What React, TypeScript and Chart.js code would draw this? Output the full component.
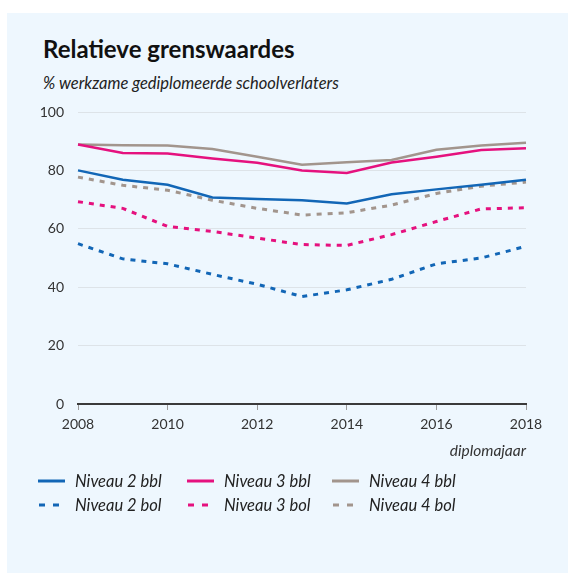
import React, { useEffect, useRef } from "react";
import { Chart, registerables } from "chart.js";

Chart.register(...registerables);

const years = [2008, 2009, 2010, 2011, 2012, 2013, 2014, 2015, 2016, 2017, 2018];
const niveau2bbl = [80.0, 76.8, 75.1, 70.7, 70.2, 69.8, 68.7, 71.8, 73.5, 75.1, 76.8];
const niveau3bbl = [88.9, 86.0, 85.8, 84.1, 82.6, 80.0, 79.1, 82.7, 84.7, 87.0, 87.6];
const niveau4bbl = [88.9, 88.6, 88.5, 87.3, 84.7, 81.9, 82.8, 83.6, 87.1, 88.5, 89.5];
const niveau2bol = [54.9, 49.7, 48.0, 44.4, 41.0, 36.8, 39.1, 42.7, 48.0, 50.0, 54.0];
const niveau3bol = [69.3, 67.0, 60.8, 59.1, 56.8, 54.6, 54.3, 58.0, 62.5, 66.8, 67.2];
const niveau4bol = [77.7, 74.9, 73.2, 69.8, 67.0, 64.7, 65.5, 68.1, 72.1, 74.6, 76.0];
const yTicks = [0, 20, 40, 60, 80, 100];
const xTicks = [2008, 2010, 2012, 2014, 2016, 2018];

const BLUE = "#1266b6";
const PINK = "#e5117e";
const GRAY = "#a2958d";

const seriesDefs = [
  { label: "Niveau 2 bbl", data: niveau2bbl, color: BLUE, dashed: false },
  { label: "Niveau 3 bbl", data: niveau3bbl, color: PINK, dashed: false },
  { label: "Niveau 4 bbl", data: niveau4bbl, color: GRAY, dashed: false },
  { label: "Niveau 2 bol", data: niveau2bol, color: BLUE, dashed: true },
  { label: "Niveau 3 bol", data: niveau3bol, color: PINK, dashed: true },
  { label: "Niveau 4 bol", data: niveau4bol, color: GRAY, dashed: true },
];

const FONT = "Lato, 'Noto Sans', sans-serif";

export default function App() {
  const canvasRef = useRef<HTMLCanvasElement | null>(null);

  useEffect(() => {
    if (!canvasRef.current) return;
    const chart = new Chart(canvasRef.current, {
      type: "line",
      data: {
        datasets: seriesDefs.map((s) => ({
          label: s.label,
          data: years.map((y, i) => ({ x: y, y: s.data[i] })),
          borderColor: s.color,
          backgroundColor: s.color,
          borderWidth: s.dashed ? 3 : 2.5,
          borderDash: s.dashed ? [5, 6] : [],
          pointRadius: 0,
          tension: 0,
          fill: false,
        })),
      },
      options: {
        animation: false,
        responsive: false,
        maintainAspectRatio: false,
        clip: false as any,
        layout: { padding: { left: 0, right: 42, top: 112, bottom: 111 } },
        plugins: {
          legend: { display: false },
          tooltip: { enabled: false },
          title: { display: false },
        },
        scales: {
          x: {
            type: "linear",
            min: years[0],
            max: years[years.length - 1],
            afterBuildTicks: (scale: any) => {
              scale.ticks = xTicks.map((v) => ({ value: v }));
            },
            afterFit: (scale: any) => {
              scale.height = 59;
            },
            ticks: {
              color: "#333",
              font: { family: FONT, size: 14 },
              padding: 6,
              maxRotation: 0,
              autoSkip: false,
              callback: (v: any) => String(v),
            },
            grid: {
              display: true,
              drawOnChartArea: false,
              drawTicks: true,
              tickLength: 6,
              color: "#9a9a9a",
              lineWidth: 1,
            },
            border: { display: true, color: "#3a3a3a", width: 2 },
            title: {
              display: true,
              text: "diplomajaar",
              align: "end",
              color: "#333",
              font: { family: FONT, size: 15.5, style: "italic" },
              padding: { top: 0, bottom: 3 },
            },
          },
          y: {
            type: "linear",
            min: 0,
            max: 100,
            afterBuildTicks: (scale: any) => {
              scale.ticks = yTicks.map((v) => ({ value: v }));
            },
            afterFit: (scale: any) => {
              scale.width = 78;
            },
            ticks: {
              color: "#333",
              font: { family: FONT, size: 14 },
              padding: 14,
              callback: (v: any) => String(v),
            },
            grid: {
              color: "#dde3e8",
              lineWidth: 1,
              drawTicks: false,
            },
            border: { display: false },
          },
        },
      },
    });
    return () => chart.destroy();
  }, []);

  return (
    <div style={{ position: "fixed", left: 0, top: 0, width: 568, height: 574, background: "#fff", fontFamily: FONT }}>
      <div style={{ position: "absolute", left: 7, top: 13, width: 561, height: 560, background: "#eef7fe" }} />
      <div
        style={{
          position: "absolute",
          left: 43,
          top: 37,
          fontSize: 24,
          lineHeight: "24px",
          fontWeight: 700,
          color: "#111",
          whiteSpace: "nowrap",
        }}
      >
        Relatieve grenswaardes
      </div>
      <div
        style={{
          position: "absolute",
          left: 43,
          top: 75,
          fontSize: 16.5,
          lineHeight: "16px",
          fontStyle: "italic",
          color: "#222",
          whiteSpace: "nowrap",
        }}
      >
        % werkzame gediplomeerde schoolverlaters
      </div>
      <canvas ref={canvasRef} width={568} height={574} style={{ position: "absolute", left: 0, top: 0, width: 568, height: 574 }} />
      {seriesDefs.map((s, i) => {
        const col = i % 3;
        const row = Math.floor(i / 3);
        const colX = [38, 187, 332][col];
        const cy = 481 + row * 24;
        return (
          <div key={s.label} style={{ position: "absolute", left: colX, top: cy - 10, height: 20, whiteSpace: "nowrap" }}>
            <svg width={28} height={20} style={{ position: "absolute", left: 0, top: 0 }}>
              <line
                x1={s.dashed ? 1 : 0}
                y1={10}
                x2={s.dashed ? 21 : 27}
                y2={10}
                stroke={s.color}
                strokeWidth={3}
                strokeDasharray={s.dashed ? "6 8" : undefined}
              />
            </svg>
            <span
              style={{
                position: "absolute",
                left: 37,
                top: 0,
                fontSize: 16.5,
                lineHeight: "20px",
                fontStyle: "italic",
                color: "#222",
              }}
            >
              {s.label}
            </span>
          </div>
        );
      })}
    </div>
  );
}
